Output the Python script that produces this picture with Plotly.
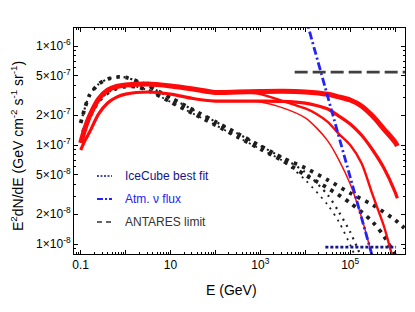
import plotly.graph_objects as go

# ---------------- data ----------------
E_low = [0.1, 0.126, 0.158, 0.251, 0.398, 0.631, 1.0, 3.16, 10, 31.6, 100, 316, 1000]

# red model curves
E_A = E_low + [3160, 1e4, 3.16e4, 5.62e4, 1e5, 1.78e5, 3.16e5, 5.62e5, 1e6, 1.12e6]
F_A = [1.05e-7, 1.49e-7, 1.96e-7, 2.92e-7, 3.59e-7, 3.90e-7, 4.04e-7, 4.13e-7, 3.95e-7,
       3.68e-7, 3.39e-7, 3.43e-7, 3.47e-7,
       3.49e-7, 3.43e-7, 3.25e-7, 3.06e-7, 2.85e-7, 2.48e-7, 1.96e-7, 1.45e-7, 1.07e-7, 9.77e-8]

E_B = E_low + [3160, 1e4, 1.78e4, 3.16e4, 5.62e4, 1e5, 1.78e5, 3.16e5, 5.62e5, 1e6, 1.12e6]
F_B = [8.9e-8, 1.12e-7, 1.35e-7, 2.06e-7, 2.66e-7, 3.05e-7, 3.27e-7, 3.43e-7, 3.27e-7,
       2.95e-7, 2.78e-7, 2.78e-7, 2.78e-7,
       2.76e-7, 2.65e-7, 2.51e-7, 2.31e-7, 1.96e-7, 1.63e-7, 1.26e-7, 8.9e-8, 5.86e-8, 3.35e-8, 2.9e-8]

E_C = E_low + [3160, 1e4, 1.78e4, 3.16e4, 5.62e4, 1e5, 1.78e5, 3.16e5, 5.62e5, 7.94e5, 1e6]
F_C = [1.05e-7, 1.49e-7, 1.96e-7, 2.92e-7, 3.59e-7, 3.90e-7, 4.04e-7, 4.13e-7, 3.95e-7,
       3.68e-7, 3.39e-7, 3.43e-7, 3.27e-7,
       2.78e-7, 2.34e-7, 2.06e-7, 1.71e-7, 1.29e-7, 1.0e-7, 6.58e-8, 3.13e-8, 1.52e-8, 8.7e-9, 6.1e-9]

E_D = E_low + [3160, 1e4, 1.78e4, 3.16e4, 5.62e4, 1e5, 1.78e5, 3.16e5]
F_D = [8.9e-8, 1.12e-7, 1.35e-7, 2.06e-7, 2.66e-7, 3.05e-7, 3.27e-7, 3.43e-7, 3.27e-7,
       2.95e-7, 2.78e-7, 2.78e-7, 2.72e-7,
       2.37e-7, 1.88e-7, 1.49e-7, 1.10e-7, 7.05e-8, 4.04e-8, 1.87e-8, 7.2e-9]

# black dotted model curves
E_d1 = [0.1, 0.126, 0.158, 0.251, 0.398, 0.631, 1.0, 1.78, 3.16, 10, 31.6, 100, 316, 1000, 3160,
        1e4, 3.16e4, 1e5, 3.16e5, 1e6, 1.6e6]
F_d1 = [1.67e-7, 2.42e-7, 3.2e-7, 4.13e-7, 4.64e-7, 4.86e-7, 4.81e-7, 4.43e-7, 3.95e-7, 3.0e-7,
        2.27e-7, 1.72e-7, 1.30e-7, 9.8e-8, 7.4e-8,
        5.86e-8, 4.43e-8, 3.27e-8, 2.48e-8, 1.75e-8, 1.45e-8]
E_d2 = [0.112, 0.158, 0.251, 0.398, 0.631, 1.0, 1.78, 3.16, 10, 31.6, 100, 316, 1000, 3160,
        1e4, 3.16e4, 1e5, 3.16e5, 5.62e5, 1e6]
F_d2 = [1.35e-7, 1.92e-7, 2.78e-7, 3.35e-7, 3.72e-7, 3.90e-7, 3.86e-7, 3.56e-7, 2.72e-7,
        2.08e-7, 1.59e-7, 1.20e-7, 9.1e-8, 6.9e-8,
        4.98e-8, 3.68e-8, 2.6e-8, 1.67e-8, 1.2e-8, 7.7e-9]
E_d3 = E_d1[:15] + [1e4, 3.16e4, 5.62e4, 1e5, 1.58e5]
F_d3 = F_d1[:15] + [5.3e-8, 3.13e-8, 2.1e-8, 1.32e-8, 8.3e-9]
E_d4 = E_d2[:14] + [1e4, 3.16e4, 5.62e4, 1e5, 1.26e5]
F_d4 = F_d2[:14] + [4.43e-8, 2.48e-8, 1.67e-8, 9.8e-9, 7.7e-9]

# reference lines
E_atm = [1e4, 1e5, 3.16e5]
F_atm = [2.0e-6, 4.75e-8, 7.3e-9]
E_antares = [5.8e3, 1e7]
F_antares = [5.45e-7, 5.45e-7]
E_icecube = [2.8e4, 1.05e6]
F_icecube = [9.3e-9, 9.3e-9]

legend_labels = ["IceCube best fit", "Atm. ν flux", "ANTARES limit"]
legend_colors = ["#14148c", "#2323f5", "#333333"]

x_major = [0.1, 1, 10, 100, 1e3, 1e4, 1e5, 1e6]
x_major_text = ["0.1", "", "10", "", "10<sup>3</sup>", "", "10<sup>5</sup>", ""]
y_major = [1e-8, 2e-8, 5e-8, 1e-7, 2e-7, 5e-7, 1e-6]
y_major_text = ["1×10<sup>-8</sup>", "2×10<sup>-8</sup>", "5×10<sup>-8</sup>", "1×10<sup>-7</sup>",
                "2×10<sup>-7</sup>", "5×10<sup>-7</sup>", "1×10<sup>-6</sup>"]

# ---------------- figure ----------------
RED = "#ff0a0a"
DOT = "#1e1e1e"
fig = go.Figure()

def add(x, y, color, width, dash="solid", shape="spline"):
    fig.add_trace(go.Scatter(x=x, y=y, mode="lines", showlegend=False, hoverinfo="skip",
                             line=dict(color=color, width=width, dash=dash, shape=shape,
                                       smoothing=0.8)))

add(E_d1, F_d1, DOT, 3.8, "3.5px,5.5px")
add(E_d2, F_d2, DOT, 3.8, "3.5px,5.5px")
add(E_d3, F_d3, DOT, 2.2, "2px,5px")
add(E_d4, F_d4, DOT, 1.8, "2px,5px")
add(E_D, F_D, RED, 1.5)
add(E_C, F_C, RED, 2.4)
add(E_B, F_B, RED, 3.2)
add(E_A, F_A, RED, 5.0)
add(E_atm, F_atm, "#2323f5", 2.8, "8px,3px,2px,3px", "linear")
add(E_antares, F_antares, "#404040", 2.8, "13px,5px", "linear")
add(E_icecube, F_icecube, "#14148c", 2.6, "3px,2px", "linear")

# minor ticks
x_minor = [m * 10 ** k for k in range(-2, 7) for m in range(2, 10)]
x_minor = [v for v in x_minor if 0.07 < v < 1.7e6]
y_minor = [m * 10 ** k for k in range(-9, -5) for m in (3, 4, 6, 7, 8, 9)]
y_minor = [v for v in y_minor if 7.9e-9 < v < 1.5e-6] + [1.5e-6]

fig.update_xaxes(type="log", range=[-1.149, 6.22], showline=True, linecolor="black", linewidth=1,
                 mirror="allticks", ticks="inside", ticklen=4, tickcolor="black",
                 tickmode="array", tickvals=x_major, ticktext=x_major_text,
                 minor=dict(ticks="inside", ticklen=2, tickcolor="black", tickmode="array",
                            tickvals=x_minor),
                 showgrid=False, zeroline=False,
                 tickfont=dict(family="Arial", size=12, color="black"))
fig.update_yaxes(type="log", range=[-8.101, -5.818], showline=True, linecolor="black", linewidth=1,
                 mirror="allticks", ticks="inside", ticklen=4, tickcolor="black",
                 tickmode="array", tickvals=y_major, ticktext=y_major_text,
                 minor=dict(ticks="inside", ticklen=2, tickcolor="black", tickmode="array",
                            tickvals=y_minor),
                 showgrid=False, zeroline=False,
                 tickfont=dict(family="Arial", size=12, color="black"))

# legend drawn manually (pixel positions converted to paper fractions)
L, R, T, B = 74, 405, 28, 254
def px(xp):
    return (xp - L) / (R - L)
def py(yp):
    return (B - yp) / (B - T)

leg_y = [176, 199, 222]
leg_dash = ["2px,1.5px", "6px,2px,2px,2px", "5px,4px"]
leg_w = [1.6, 2.0, 1.5]
shapes, annots = [], []
for lab, col, yy, dsh, w in zip(legend_labels, legend_colors, leg_y, leg_dash, leg_w):
    shapes.append(dict(type="line", xref="paper", yref="paper", x0=px(97), x1=px(112),
                       y0=py(yy), y1=py(yy), line=dict(color=col, width=w, dash=dsh)))
    annots.append(dict(xref="paper", yref="paper", x=px(123), y=py(yy), xanchor="left",
                       yanchor="middle", text=lab, showarrow=False,
                       font=dict(family="Arial", size=12, color=col)))

annots.append(dict(xref="paper", yref="paper", x=px(231), y=py(290), xanchor="center",
                   yanchor="middle", text="E (GeV)", showarrow=False,
                   font=dict(family="Arial", size=14, color="black")))
annots.append(dict(xref="paper", yref="paper", x=px(17), y=py(146), xanchor="center",
                   yanchor="middle", textangle=-90,
                   text="E<sup>2</sup>dN/dE (GeV cm<sup>-2</sup> s<sup>-1</sup> sr<sup>-1</sup>)",
                   showarrow=False, font=dict(family="Arial", size=14, color="black")))

fig.update_layout(width=415, height=312, margin=dict(l=74, r=10, t=28, b=58),
                  paper_bgcolor="white", plot_bgcolor="white",
                  shapes=shapes, annotations=annots, showlegend=False)

fig.write_html("out.html", config={"displayModeBar": False},
               post_script="document.body.style.margin='0px';document.body.style.padding='0px';")
